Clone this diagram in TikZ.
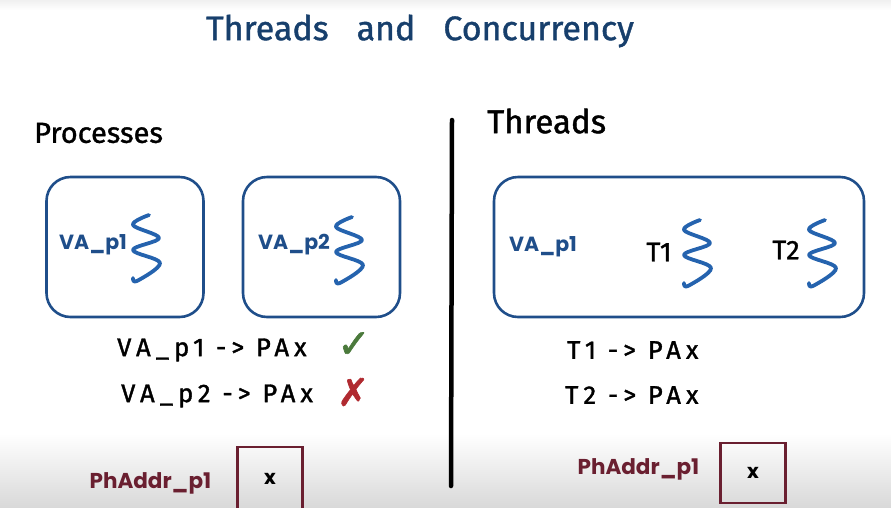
\documentclass[tikz,border=0pt]{standalone}
\usepackage{fontspec}
\setmainfont{Poppins}
\newfontfamily\handfont{Fira Sans}[FakeBold=1.2]
\newfontfamily\widehand{Fira Sans}[LetterSpace=20, FakeBold=1.4]
\newfontfamily\symfont{DejaVu Sans}[FakeBold=1.5]
\usepackage{tikz}
\usetikzlibrary{positioning, calc}
\definecolor{TitleInk}{HTML}{173F6C}
\definecolor{BoxBlue}{HTML}{1F4E8A}
\definecolor{ThreadBlue}{HTML}{2563AE}
\definecolor{AddrInk}{HTML}{6A1F30}
\definecolor{OkInk}{HTML}{4B7A3C}
\definecolor{BadInk}{HTML}{B02A30}
\definecolor{FloorGray}{HTML}{D9D9D9}

\begin{document}
\begin{tikzpicture}[
    x=1pt, y=-1pt,
    hand/.style={
      font=\widehand\fontsize{25.5}{25.5}\selectfont,
      inner sep=0pt,
      anchor=west,
    },
    space/.style={
      draw=BoxBlue,
      line width=2.6pt,
      rounded corners=24pt,
      minimum height=140pt,
      inner sep=0pt,
    },
    valbl/.style={
      text=BoxBlue,
      font=\bfseries\fontsize{20.5}{20.5}\selectfont,
      inner sep=0pt,
      anchor=west,
    },
    addr/.style={
      text=AddrInk,
      font=\bfseries\fontsize{21.5}{21.5}\selectfont,
      inner sep=0pt,
    },
    cell/.style={
      draw=AddrInk,
      line width=2.2pt,
      minimum width=65pt,
      minimum height=60pt,
      inner sep=0pt,
      font=\bfseries\fontsize{20}{20}\selectfont,
    },
    thread/.pic={
      \draw[ThreadBlue, line width=3.8pt, line cap=round, line join=round]
        plot[smooth, tension=0.6] coordinates
        {(3,-35) (-13,-25) (13,-12) (-13,0) (14,13) (-9,31) (-13,28)};
    },
  ]
    \useasboundingbox (0,0) rectangle (891,507);

    % ---- backdrop ----
    \fill[top color=white, bottom color=FloorGray] (0,434) rectangle (891,507);
    \fill[top color=gray!12, bottom color=white] (0,0) rectangle (891,10);

    % ---- title ----
    \node[inner sep=0pt, text=TitleInk,
      font=\handfont\fontsize{34}{34}\selectfont] (title) at (420,31)
      {Threads\hspace{28pt}and\hspace{28pt}Concurrency};

    % ---- divider ----
    \coordinate (divtop) at (452,120);
    \coordinate (divbot) at (451,486);
    \draw[line width=4.5pt, line cap=round] (divtop) -- (divbot);

    % ---- Processes ----
    \node[hand, font=\handfont\fontsize{29}{29}\selectfont] (proclbl) at (34,133) {Processes};

    \node[space, minimum width=157pt] (as1) at (125,247) {};
    \node[space, minimum width=157pt] (as2) at (321.5,247) {};
    \node[valbl] (va1) at (59,245) {VA\_p1};
    \node[valbl] (va2) at (258,245) {VA\_p2};
    \pic at (146,250) {thread};
    \pic at (349,252) {thread};

    \node[hand] (map1) at (117,350) {VA\_p1 -> PAx};
    \node[hand] (map2) at (121,396) {VA\_p2 -> PAx};
    \node[text=OkInk, inner sep=0pt, font=\symfont\fontsize{40}{40}\selectfont,
      anchor=west] (ok) at (337,345) {✓};
    \node[text=BadInk, inner sep=0pt, font=\symfont\fontsize{38}{38}\selectfont,
      anchor=west] (bad) at (337,392) {✗};

    \node[cell, minimum height=64pt] (x1) at (270,479) {x};
    \node[addr, left=25pt of x1, yshift=-4pt] (pa1) {PhAddr\_p1};

    % ---- Threads ----
    \node[hand, font=\handfont\fontsize{33}{33}\selectfont] (thrlbl) at (487,121) {Threads};

    \node[space, minimum width=370pt] (as3) at (679,247) {};
    \node[valbl] (va3) at (509,247) {VA\_p1};
    \node[hand, anchor=center, font=\handfont\fontsize{27}{27}\selectfont] (t1) at (659,252) {T1};
    \node[hand, anchor=center, font=\handfont\fontsize{27}{27}\selectfont] (t2) at (786,250) {T2};
    \pic at (697,255) {thread};
    \pic at (822,255) {thread};

    \node[hand] (tmap1) at (567,350) {T1 -> PAx};
    \node[hand] (tmap2) at (565,395) {T2 -> PAx};

    \node[cell, text depth=-8pt] (x2) at (753,473) {x};
    \node[addr, left=20pt of x2, yshift=4pt] (pa2) {PhAddr\_p1};
  \end{tikzpicture}
\end{document}
